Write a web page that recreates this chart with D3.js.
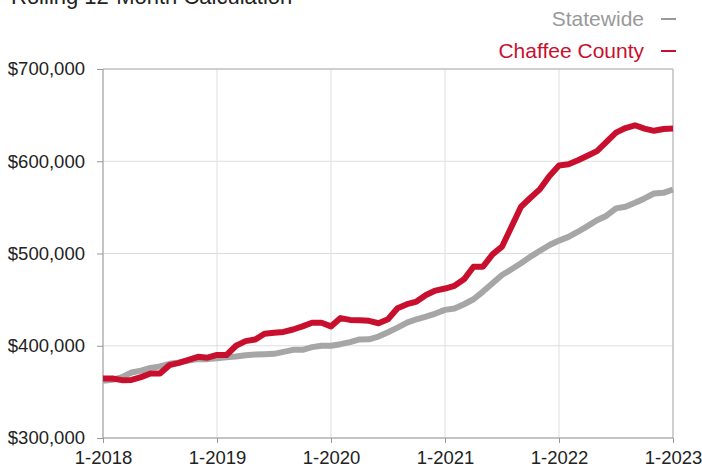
<!DOCTYPE html>
<html>
<head>
<meta charset="utf-8">
<script src="https://cdn.jsdelivr.net/npm/d3@7"></script>
<style>
  body { margin: 0; background: #fff; }
  svg { display: block; font-family: "Liberation Sans", Arial, Helvetica, sans-serif; }
</style>
</head>
<body>
<div id="chart"></div>
<script>
// monthly, 1-2018 .. 1-2023 (61 points)
const startYear = 2018
const yearTicks = [2018, 2019, 2020, 2021, 2022, 2023]
const valueTicks = [300000, 400000, 500000, 600000, 700000]

const statewide = [
  362000, 363000, 366000, 371000, 373000, 376000, 377500, 380400, 382000, 384000, 385500, 385500,
  386500, 387600, 388400, 389800, 390500, 390900, 391200, 393400, 395600, 395600, 398500, 400000,
  400000, 401700, 404000, 406800, 407000, 410000, 414700, 419700, 425000, 428700, 431600, 434900,
  438900, 440300, 445000, 450400, 458700, 467700, 476700, 482900, 489400, 496600, 503000, 509200,
  514000, 518000, 523600, 529700, 536000, 541000, 548900, 550700, 555000, 559700, 565000, 565800,
  569400
]
const chaffee = [
  364500, 364500, 362700, 363000, 366000, 370000, 370000, 379000, 381500, 384700, 388000, 387000,
  390000, 390000, 400000, 405000, 406700, 413000, 414000, 415000, 417600, 421000, 425000, 425000,
  421000, 430000, 428000, 427600, 427000, 424400, 428700, 440600, 445000, 447900, 455000, 459800,
  462000, 465000, 472000, 485700, 485700, 499000, 507400, 529000, 550700, 560400, 569800, 584000,
  595400, 596800, 601000, 605900, 611000, 621000, 631000, 636000, 639000, 635400, 633000, 635000,
  635400
]

const series = [
  { name: 'Statewide', values: statewide, color: '#a6a6a6', text: '#999999' },
  { name: 'Chaffee County', values: chaffee, color: '#c8102e', text: '#c8102e' }
]

const width = 702, height = 468
const margin = { top: 69, right: 30, bottom: 30, left: 103 }

const svg = d3.select('#chart').append('svg')
  .attr('width', width)
  .attr('height', height)

const x = d3.scaleLinear()
  .domain([0, (yearTicks[yearTicks.length - 1] - startYear) * 12])
  .range([margin.left, width - margin.right + 1])

const y = d3.scaleLinear()
  .domain([300000, 700000])
  .range([height - margin.bottom, margin.top])

// gridlines
svg.append('g').selectAll('line.h')
  .data(valueTicks)
  .join('line')
  .attr('x1', x.range()[0]).attr('x2', x.range()[1])
  .attr('y1', d => y(d)).attr('y2', d => y(d))
  .attr('stroke', '#dedede')

svg.append('g').selectAll('line.v')
  .data(yearTicks)
  .join('line')
  .attr('x1', d => x((d - startYear) * 12)).attr('x2', d => x((d - startYear) * 12))
  .attr('y1', y.range()[0]).attr('y2', y.range()[1])
  .attr('stroke', '#dedede')

// frame top / right
svg.append('line')
  .attr('x1', x.range()[0]).attr('x2', x.range()[1])
  .attr('y1', y(700000)).attr('y2', y(700000))
  .attr('stroke', '#b0b0b0')
svg.append('line')
  .attr('x1', x.range()[1]).attr('x2', x.range()[1])
  .attr('y1', y.range()[0]).attr('y2', y.range()[1])
  .attr('stroke', '#b0b0b0')

// axes
const yAxis = svg.append('g')
  .attr('transform', `translate(${margin.left},0)`)
  .call(d3.axisLeft(y).tickValues(valueTicks).tickSize(6).tickPadding(12)
    .tickFormat(d => '$' + d3.format(',')(d)))
const xAxis = svg.append('g')
  .attr('transform', `translate(0,${y.range()[0]})`)
  .call(d3.axisBottom(x).tickValues(yearTicks.map(d => (d - startYear) * 12)).tickSize(5).tickPadding(8)
    .tickFormat(d => '1-' + (startYear + d / 12)))

for (const ax of [yAxis, xAxis]) {
  ax.selectAll('path.domain').attr('stroke', '#999')
  ax.selectAll('.tick line').attr('stroke', '#999')
  ax.selectAll('text').attr('fill', '#222').style('font-size', '18.5px')
}
xAxis.selectAll('text').attr('dy', null).attr('y', 26)
yAxis.select('path.domain').attr('d', `M0,${y.range()[0]}V${y.range()[1]}`)
xAxis.select('path.domain').attr('d', `M${x.range()[0]},0H${x.range()[1]}`)

// lines
const line = d3.line()
  .x((d, i) => x(i))
  .y(d => y(d))

svg.append('g').selectAll('path.series')
  .data(series)
  .join('path')
  .attr('class', 'series')
  .attr('d', d => line(d.values))
  .attr('fill', 'none')
  .attr('stroke', d => d.color)
  .attr('stroke-width', 6)
  .attr('stroke-linejoin', 'round')

// title (cut off at top like the reference)
svg.append('text')
  .attr('x', 11).attr('y', 4)
  .attr('fill', '#222')
  .style('font-size', '22px')
  .text('Rolling 12-Month Calculation')

// legend
const legend = svg.append('g')
  .selectAll('g')
  .data(series)
  .join('g')
  .attr('transform', (d, i) => `translate(0,${26 + i * 32})`)

legend.append('text')
  .attr('x', 644)
  .attr('text-anchor', 'end')
  .attr('fill', d => d.text)
  .style('font-size', '21px')
  .text(d => d.name)

legend.append('line')
  .attr('x1', 661).attr('x2', 676)
  .attr('y1', -7).attr('y2', -7)
  .attr('stroke', d => d.text)
  .attr('stroke-width', 2)
</script>
</body>
</html>
